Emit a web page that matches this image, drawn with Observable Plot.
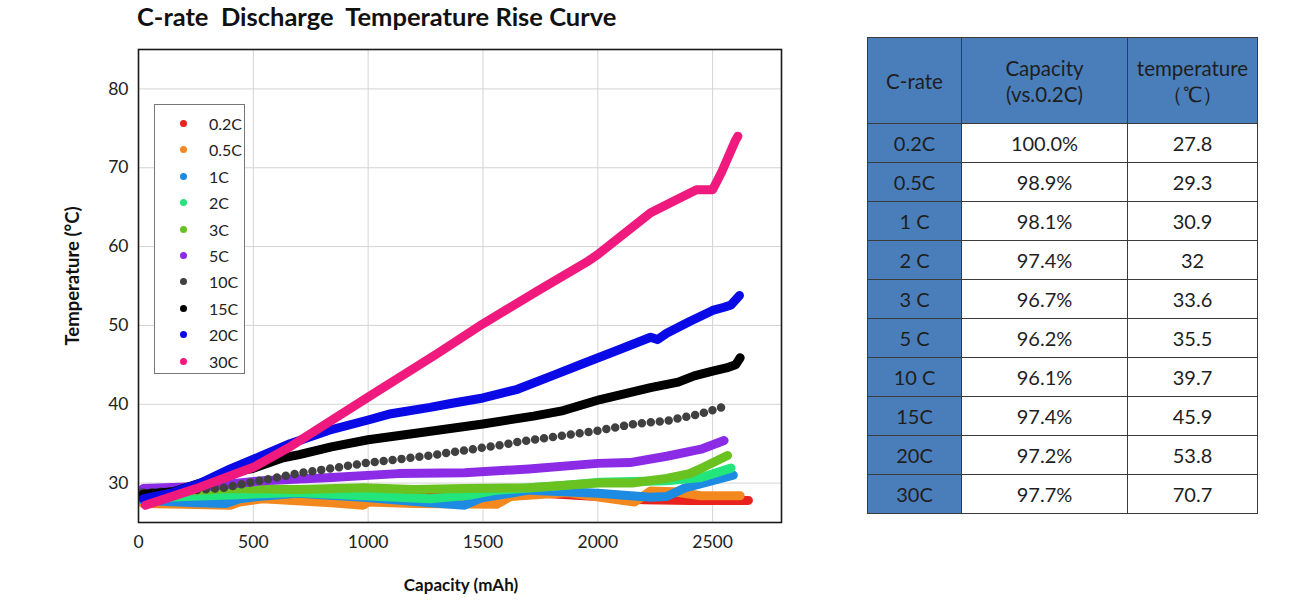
<!DOCTYPE html>
<html><head><meta charset="utf-8">
<script src="https://cdn.jsdelivr.net/npm/d3@7"></script>
<script src="https://cdn.jsdelivr.net/npm/@observablehq/plot@0.6"></script>
<style>
body{margin:0;background:#fff;font-family:Lato,"Open Sans",sans-serif;}
#wrap{position:relative;width:1291px;height:615px;overflow:hidden;background:#fff;}
#title{position:absolute;left:137px;top:1px;font-weight:700;font-size:25.5px;white-space:pre;color:#111;}
#chart{position:absolute;left:0;top:0;}
#ylab{position:absolute;left:72px;top:276px;transform:translate(-50%,-50%) rotate(-90deg);font-weight:700;font-size:18.5px;color:#111;white-space:nowrap;}
#xlab{position:absolute;left:461px;top:584px;transform:translate(-50%,-50%);font-weight:700;font-size:17px;color:#111;white-space:nowrap;}
#legend{position:absolute;left:154px;top:104px;width:89px;height:268px;border:1px solid #777;background:#fff;}
#legend .row{position:absolute;left:0;height:20px;}
#legend .dot{position:absolute;left:25px;top:6px;width:7px;height:7px;border-radius:50%;}
#legend .lab{position:absolute;left:54px;top:0;font-size:16px;line-height:20px;color:#222;}
#tbl{position:absolute;left:867px;top:37px;border-collapse:collapse;font-size:20px;color:#1e1e1e;}
#tbl td,#tbl th{border:1.5px solid #3a3a3a;text-align:center;padding:0;font-weight:400;}
#tbl th{background:#4a7ebb;height:85px;line-height:26px;font-size:20.5px;}
#tbl td{height:38px;}
#tbl td.rate{background:#4a7ebb;}
</style></head>
<body>
<div id="wrap">
  <div id="title">C-rate  Discharge  Temperature Rise Curve</div>
  <div id="chart"></div>
  <div id="ylab">Temperature (°C)</div>
  <div id="xlab">Capacity (mAh)</div>
  <div id="legend"></div>
  <table id="tbl"></table>
</div>
<script>
// ---- series (capacity mAh, temperature °C) ----
const rates = ["0.2C","0.5C","1C","2C","3C","5C","10C","15C","20C","30C"];
const colors = ["#e8231d","#f3891e","#1e8be2","#22e57c","#6ac220","#8b2be6","#404040","#000000","#0a0ae6","#f0197e"];

const c02 = [[20,28.4],[300,28.6],[700,28.8],[1000,28.9],[1400,28.8],[1700,28.8],[2000,28.3],[2200,27.9],[2400,27.8],[2656,27.8]];
const c05 = [[20,27.4],[200,27.3],[400,27.2],[440,27.6],[540,28.0],[840,27.5],[980,27.2],[1000,27.6],[1200,27.4],[1560,27.3],[1620,28.3],[1870,28.8],[2010,28.2],[2160,27.6],[2230,29.0],[2330,28.9],[2450,28.4],[2620,28.4]];
const c1 = [[20,27.8],[250,27.5],[380,27.4],[440,28.0],[520,28.3],[690,28.7],[980,28.2],[1270,27.5],[1420,27.2],[1490,28.1],[1700,29.1],[2000,28.7],[2230,28.2],[2300,28.3],[2380,29.4],[2500,30.3],[2590,31.0]];
const c2 = [[20,28.0],[200,28.3],[400,28.5],[690,28.8],[980,28.4],[1270,28.0],[1450,28.5],[1560,29.1],[1850,29.7],[2010,30.1],[2300,30.3],[2450,30.7],[2580,31.9]];
const c3 = [[20,28.7],[200,29.0],[400,29.3],[700,29.2],[980,29.4],[1200,29.2],[1420,29.3],[1700,29.4],[2000,30.0],[2150,30.0],[2300,30.6],[2400,31.2],[2460,32.0],[2565,33.5]];
const c5 = [[20,29.3],[300,29.6],[540,30.3],[840,30.7],[1130,31.2],[1420,31.3],[1700,31.8],[2000,32.5],[2140,32.6],[2300,33.4],[2450,34.3],[2550,35.4]];
const c10 = [[20,28.8],[200,29.0],[370,29.4],[475,30.0],[690,31.2],[980,32.5],[1270,33.5],[1570,34.8],[1650,35.2],[2010,36.7],[2160,37.5],[2300,37.9],[2450,38.8],[2548,39.7]];
const c15 = [[20,28.6],[150,28.9],[260,29.9],[400,31.4],[490,31.8],[630,33.2],[700,33.6],[840,34.6],[1000,35.5],[1200,36.3],[1500,37.5],[1720,38.5],[1850,39.2],[2010,40.6],[2230,42.1],[2350,42.8],[2420,43.6],[2500,44.2],[2560,44.6],[2600,45.0],[2620,45.9]];
const c20 = [[20,28.0],[150,28.8],[270,30.0],[400,31.8],[540,33.5],[660,35.0],[830,36.7],[1000,38.0],[1100,38.8],[1270,39.6],[1360,40.1],[1500,40.8],[1650,41.9],[1800,43.6],[1940,45.2],[2100,47.0],[2230,48.5],[2260,48.2],[2300,49.0],[2400,50.5],[2500,51.9],[2550,52.3],[2580,52.6],[2617,53.8]];
const c30 = [[30,27.2],[250,29.3],[500,32.0],[660,34.6],[1000,40.9],[1300,46.4],[1500,50.2],[1740,54.4],[1960,58.2],[2000,59.0],[2230,64.3],[2360,66.2],[2430,67.2],[2500,67.2],[2540,69.5],[2600,73.5],[2610,74.0]];

const xTicks = [0,500,1000,1500,2000,2500];
const yTicks = [30,40,50,60,70,80];

// ---- table ----
const tableHeader = ["C-rate","Capacity<br>(vs.0.2C)","temperature<br>（℃）"];
const tableRates = ["0.2C","0.5C","1 C","2 C","3 C","5 C","10 C","15C","20C","30C"];
const tableCapacity = ["100.0%","98.9%","98.1%","97.4%","96.7%","96.2%","96.1%","97.4%","97.2%","97.7%"];
const tableTemp = ["27.8","29.3","30.9","32","33.6","35.5","39.7","45.9","53.8","70.7"];

const seriesData = [c02,c05,c1,c2,c3,c5,c10,c15,c20,c30];

const marks = [
  Plot.gridX(xTicks.filter(d => d > 0), {stroke:"#d4d4d4", strokeOpacity:1, strokeWidth:1}),
  Plot.gridY(yTicks, {stroke:"#d4d4d4", strokeOpacity:1, strokeWidth:1}),
];
seriesData.forEach((s, i) => {
  const rows = s.map(([cap, t]) => ({cap, t, rate: rates[i]}));
  const isDots = rates[i] === "10C";
  marks.push(Plot.line(rows, {
    x: "cap", y: "t", stroke: "rate",
    strokeWidth: isDots ? 8.5 : 9,
    strokeLinecap: "round", strokeLinejoin: "round",
    strokeDasharray: isDots ? "0 9" : null
  }));
});
marks.push(Plot.frame({stroke:"#1a1a1a", strokeWidth:1.6}));
marks.push(Plot.axisX(xTicks, {tickSize:0, tickPadding:13, label:null, tickFormat: d => String(d)}));
marks.push(Plot.axisY(yTicks, {tickSize:0, tickPadding:10, label:null, tickFormat: d => String(d)}));

const chart = Plot.plot({
  width: 800, height: 615,
  marginLeft: 138, marginRight: 19, marginTop: 49, marginBottom: 93,
  x: {domain:[0,2800]},
  y: {domain:[25,85]},
  color: {domain: rates, range: colors},
  style: {fontFamily: "Lato, 'Open Sans', sans-serif", fontSize: "17.5px", color:"#222", background:"transparent"},
  marks
});
document.getElementById("chart").appendChild(chart);

// legend
const lg = document.getElementById("legend");
rates.forEach((r, i) => {
  const row = document.createElement("div");
  row.className = "row";
  row.style.top = (9 + i * 26.4) + "px";
  row.innerHTML = `<span class="dot" style="background:${colors[i]}"></span><span class="lab">${r}</span>`;
  lg.appendChild(row);
});

// table
const tbl = document.getElementById("tbl");
const colW = [93,165,129];
let html = "<tr>" + tableHeader.map((h,j)=>`<th style="width:${colW[j]}px">${h}</th>`).join("") + "</tr>";
tableRates.forEach((r,i)=>{
  html += `<tr><td class="rate">${r}</td><td>${tableCapacity[i]}</td><td>${tableTemp[i]}</td></tr>`;
});
tbl.innerHTML = html;
</script>
</body></html>
